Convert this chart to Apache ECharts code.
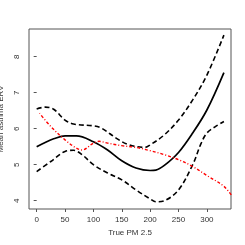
<!DOCTYPE html>
<html><head><meta charset="utf-8">
<script src="https://cdn.jsdelivr.net/npm/echarts@6/dist/echarts.min.js"></script>
<style>html,body{margin:0;padding:0;background:#fff}#c{width:245px;height:245px}</style>
</head><body><div id="c"></div>
<script>
const xTicks = [0, 50, 100, 150, 200, 250, 300];
const yTicks = [4, 5, 6, 7, 8];
const estX = [0, 15, 30, 50, 70, 100, 125, 150, 175, 200, 210, 225, 250, 275, 300, 330];
const estY = [5.50, 5.62, 5.72, 5.80, 5.80, 5.64, 5.41, 5.11, 4.91, 4.84, 4.85, 4.98, 5.34, 5.88, 6.52, 7.56];
const upX = [0, 15, 30, 50, 65, 100, 115, 140, 160, 190, 200, 225, 250, 275, 300, 330];
const upY = [6.55, 6.60, 6.54, 6.24, 6.13, 6.08, 6.01, 5.74, 5.57, 5.48, 5.55, 5.83, 6.24, 6.80, 7.49, 8.60];
const loX = [0, 25, 50, 65, 80, 100, 125, 150, 175, 200, 210, 225, 250, 275, 290, 300, 315, 330];
const loY = [4.81, 5.09, 5.37, 5.40, 5.28, 5.00, 4.77, 4.58, 4.30, 4.05, 3.97, 4.00, 4.30, 5.00, 5.60, 5.88, 6.06, 6.20];
const trueX = [5, 25, 50, 70, 80, 100, 110, 125, 150, 175, 200, 225, 250, 275, 300, 330, 345];
const trueY = [6.43, 6.06, 5.69, 5.46, 5.41, 5.60, 5.65, 5.60, 5.53, 5.48, 5.39, 5.28, 5.14, 4.95, 4.70, 4.40, 4.12];
const xName = 'True PM 2.5';
const yName = 'Mean asthma ERV';

const zip = (a, b) => a.map((v, i) => [v, b[i]]);
const font = 'Liberation Sans, Arial, sans-serif';
const txt = '#333';
const chart = echarts.init(document.getElementById('c'), null, {renderer: 'canvas'});
chart.setOption({
  animation: false,
  grid: {left: 29, right: 14, top: 29, bottom: 36, outerBoundsMode: 'none', containLabel: false, show: true, borderColor: '#555', borderWidth: 1, backgroundColor: 'transparent'},
  xAxis: {
    type: 'value', min: -13.5, max: 342.5,
    name: xName, nameLocation: 'middle', nameGap: 20,
    nameTextStyle: {fontFamily: font, fontSize: 8, color: txt},
    axisLine: {show: false},
    axisTick: {show: true, length: 3, customValues: xTicks, lineStyle: {color: '#555'}},
    axisLabel: {customValues: xTicks, fontFamily: font, fontSize: 8, color: txt, margin: 7},
    splitLine: {show: false}
  },
  yAxis: {
    type: 'value', min: 3.77, max: 8.77,
    name: yName, nameLocation: 'middle', nameGap: 19,
    nameTextStyle: {fontFamily: font, fontSize: 8, color: txt},
    axisLine: {show: false},
    axisTick: {show: true, length: 3, customValues: yTicks, lineStyle: {color: '#555'}},
    axisLabel: {customValues: yTicks, rotate: 90, fontFamily: font, fontSize: 8, color: txt, margin: 8},
    splitLine: {show: false}
  },
  series: [
    {type: 'line', data: zip(upX, upY), smooth: 0.35, symbol: 'none', lineStyle: {color: '#000', width: 1.6, type: [5, 3]}},
    {type: 'line', data: zip(loX, loY), smooth: 0.35, symbol: 'none', lineStyle: {color: '#000', width: 1.6, type: [5, 3]}},
    {type: 'line', data: zip(estX, estY), smooth: 0.35, symbol: 'none', lineStyle: {color: '#000', width: 1.7}},
    {type: 'line', data: zip(trueX, trueY), smooth: 0.35, symbol: 'none', clip: true, lineStyle: {color: '#ff0000', width: 1.4, type: [1, 2, 3, 2]}}
  ]
});
</script></body></html>
